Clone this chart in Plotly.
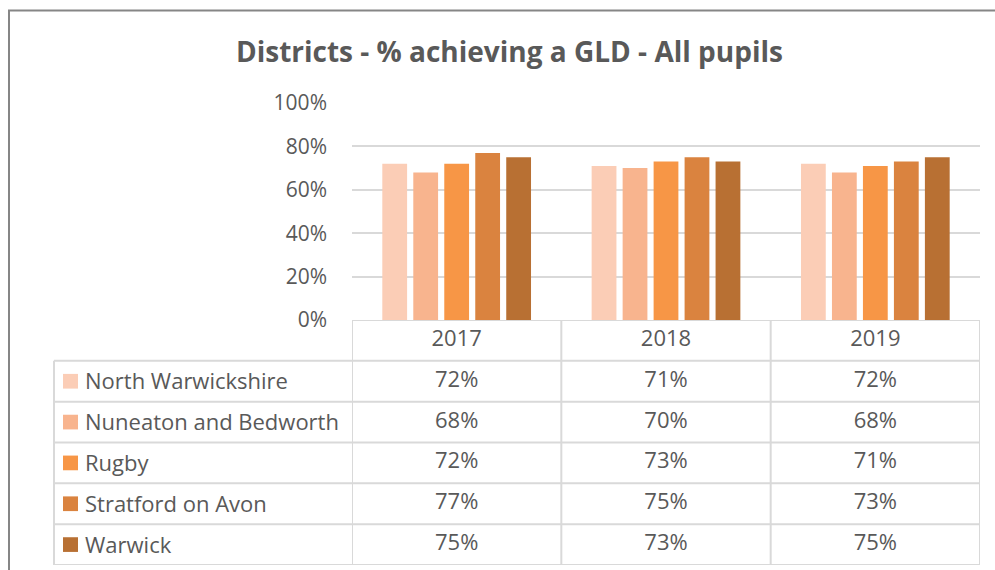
import plotly.graph_objects as go

years = ["2017", "2018", "2019"]
series = ["North Warwickshire", "Nuneaton and Bedworth", "Rugby", "Stratford on Avon", "Warwick"]
north_warwickshire = [72, 71, 72]
nuneaton_bedworth = [68, 70, 68]
rugby = [72, 73, 71]
stratford = [77, 75, 73]
warwick = [75, 73, 75]
values = [north_warwickshire, nuneaton_bedworth, rugby, stratford, warwick]
colors = ["#FBCDB6", "#F8B48E", "#F79646", "#DA833F", "#B87033"]
y_ticks = [0, 0.2, 0.4, 0.6, 0.8, 1.0]

W, H = 995, 570
FONT = "Open Sans"
TXT = "#595959"
GRID = "#D9D9D9"
FS = 22

def px(x):
    return x / W

def py(y):
    return 1 - y / H

plot_left, plot_right = 352, 980
plot_top, plot_bottom = 103, 320
table_bottom = 565
table_left = 54

fig = go.Figure()
for name, vals, c in zip(series, values, colors):
    fig.add_trace(go.Bar(
        x=years, y=[v / 100 for v in vals], name=name,
        marker=dict(color=c, line=dict(width=0)),
        showlegend=False, hoverinfo="skip",
    ))

table_font = dict(family=FONT, size=FS, color=TXT)
fig.add_trace(go.Scatter(
    x=years, y=[0] * len(years), yaxis="y2", mode="text", text=years,
    textfont=table_font, showlegend=False, hoverinfo="skip",
))
for i, vals in enumerate(values):
    fig.add_trace(go.Scatter(
        x=years, y=[i + 1] * len(years), yaxis="y2", mode="text",
        text=[f"{v}%" for v in vals],
        textfont=table_font, showlegend=False, hoverinfo="skip",
    ))

shapes = []
line = dict(color=GRID, width=2)
nrows = len(series) + 1
for k in range(nrows + 1):
    b = k - 0.5
    x0 = px(plot_left) if k == 0 else px(table_left)
    shapes.append(dict(type="line", xref="paper", yref="y2", x0=x0, x1=px(plot_right),
                       y0=b, y1=b, line=line))
shapes.append(dict(type="line", xref="paper", yref="y2", x0=px(table_left), x1=px(table_left),
                   y0=0.5, y1=nrows - 0.5, line=line))
for j in range(len(years) + 1):
    xb = j - 0.5
    shapes.append(dict(type="line", xref="x", yref="y2", x0=xb, x1=xb,
                       y0=-0.5, y1=nrows - 0.5, line=line))
for i, c in enumerate(colors):
    shapes.append(dict(type="rect", xref="paper", yref="y2", x0=px(63), x1=px(78),
                       y0=i + 1 - 0.18, y1=i + 1 + 0.18, fillcolor=c, line=dict(width=0)))
shapes.append(dict(type="rect", xref="paper", yref="paper", x0=px(9), x1=1.2,
                   y0=-0.2, y1=py(10.5), line=dict(color="#868686", width=2),
                   fillcolor="rgba(0,0,0,0)"))

annotations = []
for i, name in enumerate(series):
    annotations.append(dict(x=px(83), y=i + 1, xref="paper", yref="y2", text=name,
                            showarrow=False, xanchor="left", yanchor="middle", yshift=1,
                            font=table_font))

fig.update_layout(
    width=W, height=H, autosize=False,
    margin=dict(l=0, r=0, t=0, b=0, pad=0, autoexpand=False),
    paper_bgcolor="white", plot_bgcolor="white",
    barmode="group", bargap=0.26, bargroupgap=0.2,
    title=dict(text="<b>Districts - % achieving a GLD - All pupils</b>",
               x=0.512, xanchor="center", y=py(52), yanchor="middle",
               xref="paper", yref="container", automargin=False,
               font=dict(family=FONT, size=28, color=TXT)),
    xaxis=dict(domain=[px(plot_left), px(plot_right)], type="category",
               range=[-0.5, 2.5], showticklabels=False, showgrid=False,
               zeroline=False, showline=False, fixedrange=True, automargin=False),
    yaxis=dict(domain=[py(plot_bottom), py(plot_top)], range=[0, 1],
               tickvals=y_ticks, tickformat=".0%", showgrid=True, gridcolor=GRID,
               gridwidth=2, zeroline=False, showline=False, ticks="",
               ticklabelstandoff=24, automargin=False, fixedrange=True,
               tickfont=dict(family=FONT, size=21, color=TXT)),
    yaxis2=dict(domain=[py(table_bottom), py(plot_bottom)], anchor="x",
                range=[nrows - 0.5, -0.5], visible=False, fixedrange=True, automargin=False),
    shapes=shapes,
    annotations=annotations,
    font=dict(family=FONT, color=TXT),
)

fig.write_html("out.html", config={"displayModeBar": False},
               post_script="document.body.style.margin='0';")
